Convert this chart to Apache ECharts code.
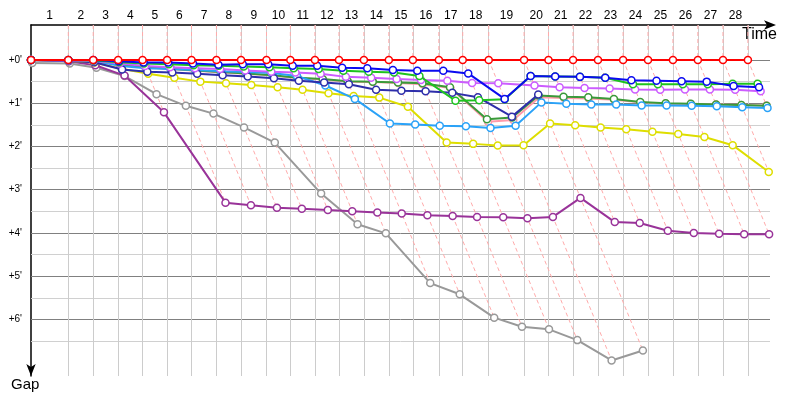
<!DOCTYPE html>
<html>
<head>
<meta charset="utf-8">
<title>Gap chart</title>
<script src="https://cdn.jsdelivr.net/npm/echarts@6/dist/echarts.min.js"></script>
<style>
  html, body { margin: 0; padding: 0; background: #fff; }
  #chart { width: 800px; height: 400px; }
</style>
</head>
<body>
<div id="chart"></div>
<script>
// lap numbers shown on the time axis
const lapLabels = ['1', '2', '3', '4', '5', '6', '7', '8', '9', '10', '11', '12', '13', '14',
  '15', '16', '17', '18', '19', '20', '21', '22', '23', '24', '25', '26', '27', '28'];
// leader elapsed time (minutes) at the end of each lap, index 0 = start
const leaderTimes = [0, 2.11, 3.52, 4.93, 6.31, 7.70, 9.08, 10.49, 11.88, 13.32, 14.67, 16.06,
  17.42, 18.83, 20.24, 21.60, 23.07, 24.42, 25.89, 27.89, 29.27, 30.66, 32.07, 33.49, 34.90,
  36.31, 37.72, 39.14, 40.55];
// gap to the leader (minutes) at the end of each lap
const gapRed = [0, 0, 0, 0, 0, 0, 0, 0, 0, 0, 0, 0, 0, 0, 0, 0, 0, 0, 0, 0, 0, 0, 0, 0, 0, 0, 0, 0, 0];
const gapBlue = [0, 0, 0, 0.03, 0.06, 0.06, 0.08, 0.11, 0.10, 0.10, 0.13, 0.13, 0.18, 0.19, 0.23,
  0.25, 0.25, 0.31, 0.90, 0.37, 0.38, 0.39, 0.41, 0.47, 0.48, 0.49, 0.50, 0.60, 0.63];
const gapGreen = [0, 0, 0.01, 0.05, 0.08, 0.10, 0.12, 0.13, 0.15, 0.17, 0.19, 0.21, 0.25, 0.27,
  0.29, 0.37, 0.94, 0.93, 0.91, 0.37, 0.38, 0.39, 0.41, 0.56, 0.56, 0.56, 0.56, 0.55, 0.55];
const gapLightBlue = [0, 0.01, 0.02, 0.14, 0.19, 0.21, 0.23, 0.26, 0.28, 0.30, 0.37, 0.59, 0.90,
  1.47, 1.49, 1.52, 1.53, 1.57, 1.52, 0.98, 1.01, 1.03, 1.03, 1.05, 1.05, 1.06, 1.07, 1.09, 1.11];
const gapViolet = [0, 0.01, 0.02, 0.08, 0.14, 0.17, 0.19, 0.21, 0.24, 0.27, 0.29, 0.32, 0.39, 0.41,
  0.44, 0.46, 0.48, 0.53, 0.54, 0.59, 0.63, 0.65, 0.66, 0.68, 0.69, 0.68, 0.68, 0.69, 0.72];
const gapDarkGreen = [0, 0.01, 0.03, 0.10, 0.16, 0.20, 0.24, 0.28, 0.31, 0.35, 0.41, 0.44, 0.49,
  0.50, 0.52, 0.54, 0.63, 1.37, 1.33, 0.82, 0.85, 0.86, 0.90, 0.97, 1.00, 1.01, 1.03, 1.04, 1.06];
const gapPink = [0, 0.01, 0.03, 0.11, 0.17, 0.21, 0.25, 0.29, 0.32, 0.36, 0.42, 0.45, 0.50, 0.51,
  0.53, 0.56, 0.65, 1.43, 1.39, 0.86, 0.88, 0.89, 0.92, 0.98, 1.01, 1.02, 1.03, 1.04, 1.05];
const gapNavy = [0, 0.02, 0.05, 0.22, 0.27, 0.29, 0.32, 0.35, 0.38, 0.42, 0.48, 0.52, 0.56, 0.69,
  0.71, 0.72, 0.76, 0.86, 1.31, 0.80];
const gapYellow = [0, 0.02, 0.06, 0.20, 0.32, 0.41, 0.50, 0.54, 0.58, 0.63, 0.69, 0.77, 0.83, 0.87,
  1.08, 1.91, 1.94, 1.98, 1.97, 1.47, 1.51, 1.56, 1.60, 1.66, 1.71, 1.78, 1.97, 2.59];
const gapGray = [0.07, 0.08, 0.18, 0.37, 0.79, 1.06, 1.24, 1.56, 1.91, 3.09, 3.80, 4.01, 5.16, 5.42,
  5.96, 6.17, 6.23, 6.48, 6.95, 6.72];
const gapPurple = [0, 0.03, 0.12, 0.36, 1.21, 3.30, 3.36, 3.42, 3.44, 3.47, 3.50, 3.53, 3.55, 3.59,
  3.61, 3.63, 3.64, 3.66, 3.63, 3.19, 3.75, 3.77, 3.95, 4.00, 4.02, 4.03, 4.03];
// gap axis labels (whole minutes)
const gapTicks = [0, 1, 2, 3, 4, 5, 6];

const timeMin = 0;
const timeMax = 41.8;
const gapMin = -0.81;
const gapMax = 7.31;

const drivers = [
  { name: 'gray', color: '#999999', gaps: gapGray },
  { name: 'purple', color: '#993399', gaps: gapPurple },
  { name: 'yellow', color: '#dede00', gaps: gapYellow },
  { name: 'pink', color: '#ff9aaa', gaps: gapPink },
  { name: 'darkgreen', color: '#3a9a3a', gaps: gapDarkGreen },
  { name: 'lightblue', color: '#2aa2f8', gaps: gapLightBlue },
  { name: 'navy', color: '#2e2eaa', gaps: gapNavy },
  { name: 'violet', color: '#cc5cff', gaps: gapViolet },
  { name: 'green', color: '#1ec31e', gaps: gapGreen },
  { name: 'blue', color: '#0a0af0', gaps: gapBlue },
  { name: 'red', color: '#ff0000', gaps: gapRed },
];

// label sits in the middle of each lap
const labelPos = lapLabels.map((l, i) => (leaderTimes[i] + leaderTimes[i + 1]) / 2);

// background grid: whole minutes dark, half minutes light, lap lines light
const gridData = [];
for (let g = 0; g <= 6.5; g += 0.5) {
  gridData.push({
    coords: [[timeMin, g], [timeMax, g]],
    lineStyle: { color: Number.isInteger(g) ? '#808080' : '#d0d0d0', width: 1, opacity: 1 },
  });
}
for (let k = 1; k < leaderTimes.length; k++) {
  gridData.push({
    coords: [[leaderTimes[k], gapMin], [leaderTimes[k], gapMax]],
    lineStyle: { color: '#cccccc', width: 1, opacity: 1 },
  });
}

// dashed lap lines: from the leader to the last car on the same lap
const lapLineData = [];
for (let k = 1; k < leaderTimes.length; k++) {
  let last = 0;
  drivers.forEach((d) => {
    if (d.gaps[k] !== undefined && d.gaps[k] > last) last = d.gaps[k];
  });
  lapLineData.push({
    coords: [[leaderTimes[k], gapMin], [leaderTimes[k], 0], [leaderTimes[k] + last, last]],
  });
}

const driverSeries = drivers.map((d, i) => ({
  name: d.name,
  type: 'line',
  z: 3 + i,
  clip: false,
  symbol: 'circle',
  symbolSize: 7,
  showAllSymbol: true,
  lineStyle: { color: d.color, width: 2 },
  itemStyle: { color: '#ffffff', borderColor: d.color, borderWidth: 1.5 },
  data: d.gaps.map((g, k) => [leaderTimes[k] + g, g]),
}));

const chart = echarts.init(document.getElementById('chart'));
chart.setOption({
  animation: false,
  textStyle: { fontFamily: 'Liberation Sans' },
  grid: { left: 31, right: 30, top: 25, bottom: 24 },
  xAxis: {
    type: 'value',
    position: 'top',
    min: timeMin,
    max: timeMax,
    axisLine: {
      onZero: false,
      lineStyle: { color: '#000', width: 1.5 },
      symbol: ['none', 'arrow'],
      symbolSize: [7, 12],
      symbolOffset: [0, 6],
    },
    axisTick: { show: false },
    splitLine: { show: false },
    axisLabel: {
      customValues: labelPos,
      margin: 3,
      fontSize: 12,
      color: '#000',
      formatter(value) {
        const i = labelPos.findIndex((p) => Math.abs(p - value) < 1e-6);
        return i >= 0 ? lapLabels[i] : '';
      },
    },
  },
  yAxis: {
    type: 'value',
    inverse: true,
    min: gapMin,
    max: gapMax,
    axisLine: {
      onZero: false,
      lineStyle: { color: '#000', width: 1.5 },
      symbol: ['arrow', 'none'],
      symbolSize: [7, 12],
    },
    axisTick: { show: false },
    splitLine: { show: false },
    axisLabel: {
      customValues: gapTicks,
      margin: 9,
      fontSize: 10,
      color: '#000',
      formatter(value) {
        return `+${value}'`;
      },
    },
  },
  graphic: [
    { type: 'text', right: 23, top: 27, style: { text: 'Time', font: '16px "Liberation Sans"', fill: '#000' } },
    { type: 'text', left: 11, top: 377, style: { text: 'Gap', font: '15px "Liberation Sans"', fill: '#000' } },
  ],
  series: [
    {
      type: 'lines',
      coordinateSystem: 'cartesian2d',
      silent: true,
      z: 1,
      data: gridData,
    },
    {
      type: 'lines',
      coordinateSystem: 'cartesian2d',
      polyline: true,
      silent: true,
      z: 2,
      lineStyle: { color: '#ffaaaa', width: 1, type: [4, 3], opacity: 1 },
      data: lapLineData,
    },
  ].concat(driverSeries),
});
</script>
</body>
</html>
